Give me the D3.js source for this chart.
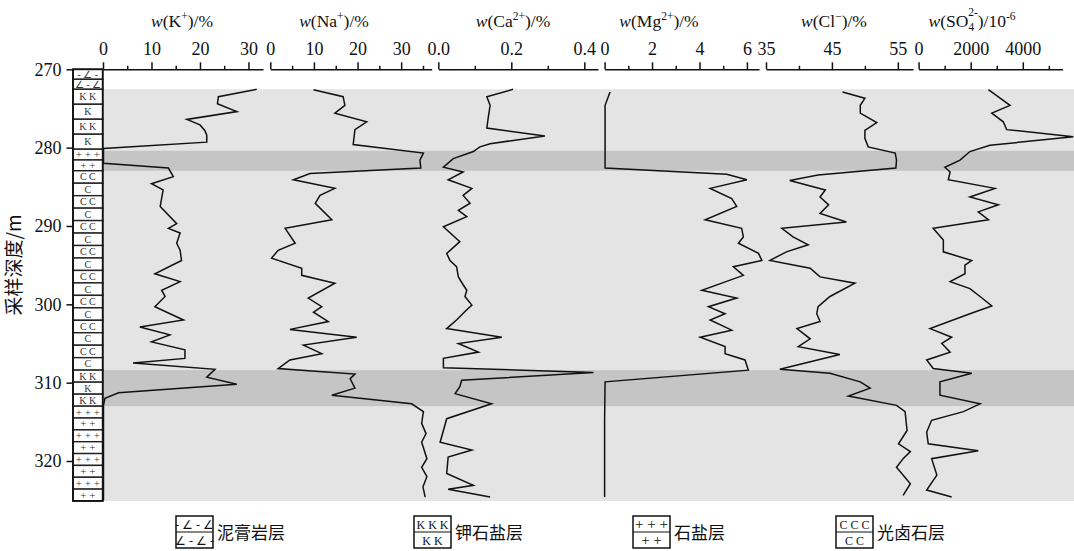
<!DOCTYPE html>
<html>
<head>
<meta charset="utf-8">
<script src="https://cdn.jsdelivr.net/npm/d3@7"></script>
<style>
  body { margin: 0; background: #fff; }
  svg { display: block; }
  text { font-family: "Liberation Serif", "Times New Roman", serif; fill: #111; }
  .cjk { font-family: "Noto Sans CJK SC", sans-serif; }
</style>
</head>
<body>
<svg id="chart" width="1074" height="551"></svg>
<script>
// depth (m), value
const kData = [[272.55,31.7],[273.5,23.8],[274.4,23.6],[275.4,27.6],[276.4,17.3],[277.1,20.0],[277.8,21.0],[278.4,21.4],[279.3,21.4],[280.1,0.1],[282.0,0.1],[282.6,13.5],[283.7,14.5],[284.6,10.0],[285.4,12.4],[287.5,11.8],[289.7,15.2],[290.3,13.5],[290.9,15.9],[292.2,15.2],[293.1,15.9],[294.4,16.2],[296.1,10.7],[297.1,15.9],[298.2,12.1],[299.0,12.8],[300.3,10.7],[302.0,16.6],[302.9,7.6],[303.9,13.8],[304.8,10.0],[305.8,16.9],[306.9,16.9],[307.5,6.2],[308.3,23.1],[309.3,21.4],[310.2,27.6],[311.3,3.2],[312.0,0.4],[312.9,0.1],[325.0,0.1]];
const naData = [[272.6,9.9],[273.5,16.7],[274.6,17.1],[275.6,14.8],[276.7,22.1],[277.7,19.4],[279.6,19.0],[280.7,35.1],[281.6,34.3],[282.6,34.5],[283.3,9.1],[284.1,5.3],[285.2,14.8],[286.1,11.4],[287.1,10.3],[289.2,14.1],[290.3,3.4],[292.2,5.7],[293.1,1.8],[294.1,0.3],[295.4,7.2],[296.3,7.2],[297.3,14.8],[299.2,8.7],[300.3,11.8],[301.0,9.9],[302.2,13.3],[303.2,4.5],[304.2,19.8],[305.2,7.6],[306.3,11.8],[307.1,4.5],[308.2,1.8],[308.9,19.4],[309.5,18.3],[310.7,19.4],[311.6,14.1],[312.7,32.4],[313.7,35.1],[315.2,34.7],[316.5,35.7],[317.6,34.7],[319.7,35.9],[320.8,34.7],[322.0,35.9],[323.3,35.0],[324.6,35.5]];
const caData = [[272.55,0.205],[273.5,0.133],[274.6,0.142],[276.1,0.137],[277.5,0.133],[278.5,0.292],[279.5,0.142],[279.9,0.114],[280.5,0.096],[281.4,0.041],[282.5,0.014],[283.1,0.068],[284.1,0.027],[285.2,0.092],[286.1,0.068],[287.1,0.087],[288.0,0.055],[288.8,0.078],[290.1,0.014],[292.0,0.059],[293.5,0.023],[294.4,0.032],[295.2,0.050],[296.5,0.055],[297.5,0.068],[298.2,0.078],[299.0,0.073],[300.1,0.092],[300.7,0.078],[302.0,0.050],[303.1,0.023],[304.2,0.174],[305.0,0.055],[306.1,0.110],[306.9,0.014],[308.1,0.014],[308.7,0.425],[309.7,0.064],[310.5,0.059],[311.4,0.046],[312.7,0.146],[314.6,0.023],[317.6,0.005],[318.6,0.092],[319.5,0.027],[321.6,0.023],[323.1,0.096],[323.6,0.027],[324.6,0.142]];
const mgData = [[272.9,0.23],[274.6,0.02],[282.6,0.02],[283.4,5.15],[284.1,6.0],[285.2,4.45],[286.5,5.36],[287.5,5.57],[289.2,4.24],[290.3,5.78],[291.4,5.85],[292.2,5.64],[293.5,6.49],[294.4,6.63],[295.2,5.43],[296.3,5.85],[298.2,4.10],[299.2,5.57],[300.3,4.38],[301.2,5.08],[302.0,4.45],[303.3,5.36],[304.2,4.03],[305.4,5.08],[306.3,5.08],[307.1,5.92],[308.4,6.06],[309.9,0.02],[314.8,0.0],[324.6,0.0]];
const clData = [[272.9,46.6],[273.7,50.0],[274.6,49.3],[275.6,49.3],[276.8,51.8],[277.8,50.0],[278.8,50.0],[279.9,50.5],[280.7,54.6],[281.6,54.8],[282.6,54.7],[283.5,42.9],[284.2,38.6],[285.4,44.0],[286.3,43.2],[287.3,44.5],[288.4,43.2],[289.5,47.2],[290.3,37.4],[291.4,39.1],[292.4,41.4],[293.3,38.1],[294.4,35.6],[295.4,41.7],[296.5,43.2],[297.3,48.5],[299.0,44.7],[300.3,42.9],[301.2,42.7],[302.2,43.2],[303.1,39.7],[304.4,41.7],[305.4,39.9],[306.4,46.2],[308.3,37.1],[308.8,44.7],[309.9,49.3],[310.7,50.8],[311.7,47.5],[312.9,54.8],[313.7,56.1],[316.1,56.4],[317.8,55.1],[318.8,56.9],[319.7,55.8],[320.8,54.8],[322.9,56.9],[324.4,55.8]];
const so4Data = [[272.6,2680],[274.6,3510],[275.6,2810],[276.7,3250],[277.7,3380],[278.6,5940],[279.7,2740],[280.5,1970],[281.6,1590],[282.5,1010],[283.1,1210],[284.1,1140],[285.2,2930],[286.3,1970],[287.3,3060],[288.2,2290],[289.2,2680],[290.3,560],[291.8,950],[293.3,950],[294.4,2040],[295.0,1780],[296.1,1780],[297.1,1210],[298.0,1970],[299.0,2360],[300.2,2810],[301.2,1970],[303.1,440],[304.2,1270],[305.0,890],[306.1,1210],[307.1,310],[308.2,560],[308.8,2040],[309.9,820],[311.6,820],[312.7,2360],[313.7,1720],[314.8,500],[316.3,310],[317.8,370],[318.7,2290],[319.7,500],[321.8,700],[323.7,310],[324.6,1270]];

const depthTicks = [270, 280, 290, 300, 310, 320];
const kMajor = [0, 10, 20, 30], kMinor = [5, 15, 25];
const naMajor = [0, 10, 20, 30], naMinor = [5, 15, 25, 35];
const caMajor = [0, 0.2, 0.4], caMinor = [0.1, 0.3];
const mgMajor = [0, 2, 4, 6], mgMinor = [1, 3, 5];
const clMajor = [35, 45, 55], clMinor = [40, 50];
const so4Major = [0, 2000, 4000], so4Minor = [1000, 3000, 5000];

const grayRange = [272.55, 325.1];
const darkBands = [[280.4, 282.95], [308.4, 313.0]];

const lithTypes = ['mud', 'kcl', 'salt', 'carn', 'kcl', 'salt'];
const lithTops = [270, 272.55, 280.2, 282.95, 308.4, 313.0];
const lithBottoms = [272.55, 280.2, 282.95, 308.4, 313.0, 325.1];
const lithCells = [2, 4, 2, 16, 3, 8];

const legendNames = ['泥膏岩层', '钾石盐层', '石盐层', '光卤石层'];
const legendTypes = ['mud', 'kcl', 'salt', 'carn'];

const svg = d3.select('#chart');
const y = d3.scaleLinear().domain([270, 320]).range([69.3, 461]);

// backgrounds
svg.append('rect').attr('x', 103).attr('width', 971)
  .attr('y', y(grayRange[0])).attr('height', y(grayRange[1]) - y(grayRange[0]))
  .attr('fill', '#e4e4e4');
svg.append('g').selectAll('rect').data(darkBands).join('rect')
  .attr('x', 103).attr('width', 971)
  .attr('y', d => y(d[0])).attr('height', d => y(d[1]) - y(d[0]))
  .attr('fill', '#c5c5c5');

const panels = [
  { data: kData, x0: 103, x1: 263, dom: [0, 33], major: kMajor, minor: kMinor, fmt: d3.format('d'), tx: 182,
    title: [['w', 'i'], ['(K'], ['+', 'sup'], [')/%']] },
  { data: naData, x0: 270.3, x1: 431.7, dom: [0, 37], major: naMajor, minor: naMinor, fmt: d3.format('d'), tx: 334,
    title: [['w', 'i'], ['(Na'], ['+', 'sup'], [')/%']] },
  { data: caData, x0: 438.3, x1: 598, dom: [0, 0.4375], major: caMajor, minor: caMinor, fmt: d3.format('.1f'), tx: 513,
    title: [['w', 'i'], ['(Ca'], ['2+', 'sup'], [')/%']] },
  { data: mgData, x0: 604.6, x1: 759, dom: [0, 6.51], major: mgMajor, minor: mgMinor, fmt: d3.format('d'), tx: 659,
    title: [['w', 'i'], ['(Mg'], ['2+', 'sup'], [')/%']] },
  { data: clData, x0: 766, x1: 913, dom: [35, 57.3], major: clMajor, minor: clMinor, fmt: d3.format('d'), tx: 834,
    title: [['w', 'i'], ['(Cl'], ['\u2212', 'sup'], [')/%']] },
  { data: so4Data, x0: 918.6, x1: 1062.6, dom: [0, 5528], major: so4Major, minor: so4Minor, fmt: d3.format('d'), tx: 972,
    title: [['w', 'i'], ['(SO'], ['4', 'sub'], ['2-', 'subsup'], [')/10'], ['-6', 'sup']] }
];

panels.forEach(p => {
  const x = d3.scaleLinear().domain(p.dom).range([p.x0, p.x1]);

  const ax = svg.append('g').attr('transform', `translate(0,${y(270)})`);
  ax.call(d3.axisTop(x).tickValues(p.major).tickFormat(p.fmt).tickSize(7).tickSizeOuter(0).tickPadding(7));
  ax.append('g').call(d3.axisTop(x).tickValues(p.minor).tickFormat('').tickSize(3.5).tickSizeOuter(0))
    .select('.domain').remove();
  ax.selectAll('path, line').attr('stroke', '#111').attr('stroke-width', 1.5);
  ax.selectAll('text').attr('font-size', 18).attr('font-family', '"Liberation Serif", serif').attr('fill', '#111');

  const line = d3.line().x(d => x(d[1])).y(d => y(d[0]));
  svg.append('path').datum(p.data)
    .attr('d', line).attr('fill', 'none')
    .attr('stroke', '#111').attr('stroke-width', 1.5).attr('stroke-linejoin', 'miter');

  const t = svg.append('text').attr('x', p.tx).attr('y', 27)
    .attr('text-anchor', 'middle').attr('font-size', 17.5);
  let shift = 0;
  p.title.forEach(([s, kind]) => {
    const ts = t.append('tspan').text(s);
    if (kind === 'i') ts.attr('font-style', 'italic');
    let dy = 0, size = 17.5;
    if (kind === 'sup') { dy = -7; size = 11.5; }
    if (kind === 'sub') { dy = 4; size = 11.5; }
    if (kind === 'subsup') { dy = -11; size = 11.5; ts.attr('dx', -6); }
    ts.attr('font-size', size).attr('dy', dy - shift);
    shift = dy;
  });
});

// lithology column
const cellLabel = {
  mud: ['- \u2220 -', '\u2220 - \u2220'],
  kcl: ['K  K', 'K'],
  salt: ['+ + +', '+ +'],
  carn: ['C  C', 'C']
};
const cells = [];
lithTypes.forEach((type, i) => {
  const h = (lithBottoms[i] - lithTops[i]) / lithCells[i];
  for (let j = 0; j < lithCells[i]; j++) {
    cells.push({ type, top: lithTops[i] + j * h, bottom: lithTops[i] + (j + 1) * h, label: cellLabel[type][j % 2] });
  }
});
const col = svg.append('g');
col.selectAll('rect').data(cells).join('rect')
  .attr('x', 73).attr('width', 29.7)
  .attr('y', d => y(d.top)).attr('height', d => y(d.bottom) - y(d.top))
  .attr('fill', '#fff').attr('stroke', '#222').attr('stroke-width', 1.4);
col.selectAll('text').data(cells).join('text')
  .attr('x', 87.8).attr('y', d => (y(d.top) + y(d.bottom)) / 2 + 3.5)
  .attr('text-anchor', 'middle').attr('font-size', d => d.type === 'salt' ? 11 : 10)
  .style('fill', '#333').text(d => d.label);
svg.append('rect').attr('x', 73).attr('width', 29.7)
  .attr('y', y(270)).attr('height', y(lithBottoms[5]) - y(270))
  .attr('fill', 'none').attr('stroke', '#111').attr('stroke-width', 1.8);

// depth axis
const ya = svg.append('g').attr('transform', 'translate(73,0)')
  .call(d3.axisLeft(y).tickValues(depthTicks).tickSize(6.5).tickPadding(5));
ya.select('.domain').remove();
ya.selectAll('line').attr('stroke', '#111').attr('stroke-width', 1.5);
ya.selectAll('text').attr('font-size', 18).attr('font-family', '"Liberation Serif", serif').attr('fill', '#111');

svg.append('text').attr('class', 'cjk')
  .attr('transform', 'translate(21,265) rotate(-90)')
  .attr('text-anchor', 'middle').attr('font-size', 19)
  .text('采样深度/m');

// legend
const legendX = [176, 414, 633, 836];
const lg = svg.append('g').selectAll('g').data(legendNames).join('g')
  .attr('transform', (d, i) => `translate(${legendX[i]},516)`);
lg.append('rect').attr('width', 37).attr('height', 32)
  .attr('fill', '#fff').attr('stroke', '#111').attr('stroke-width', 1.5);
lg.append('line').attr('x1', 0).attr('x2', 37).attr('y1', 16).attr('y2', 16)
  .attr('stroke', '#111').attr('stroke-width', 1.2);
const legendLabel = {
  mud: ['- \u2220 - \u2220', '\u2220 - \u2220 -'],
  kcl: ['K K K', 'K K'],
  salt: ['+ + +', '+ +'],
  carn: ['C C C', 'C C']
};
lg.append('text').attr('x', 18.5).attr('y', 12.5).attr('text-anchor', 'middle')
  .attr('font-size', (d, i) => legendTypes[i] === 'salt' ? 15 : 12)
  .text((d, i) => legendLabel[legendTypes[i]][0]);
lg.append('text').attr('x', 18.5).attr('y', 28.5).attr('text-anchor', 'middle')
  .attr('font-size', (d, i) => legendTypes[i] === 'salt' ? 15 : 12)
  .text((d, i) => legendLabel[legendTypes[i]][1]);
lg.append('text').attr('class', 'cjk').attr('x', 41).attr('y', 23)
  .attr('font-size', 17).text(d => d);
</script>
</body>
</html>
